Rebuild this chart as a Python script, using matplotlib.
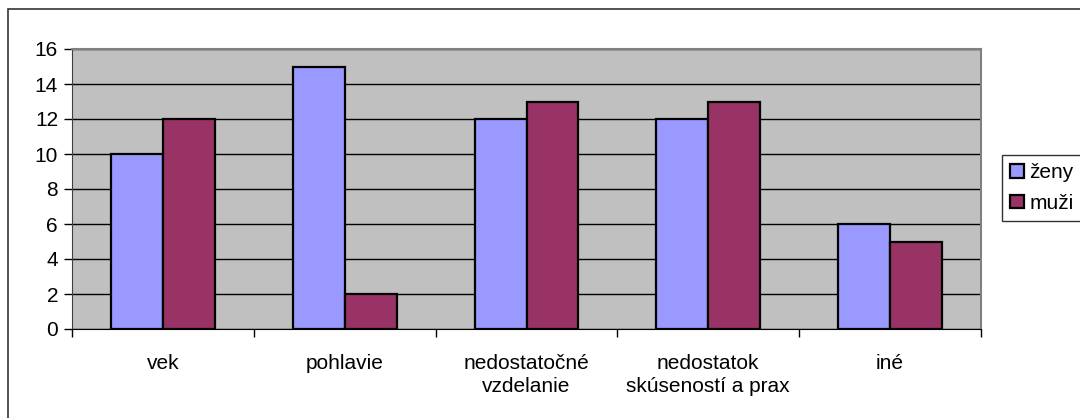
import numpy as np
import matplotlib.pyplot as plt
from matplotlib.patches import Rectangle

plt.rcParams['font.family'] = ['Liberation Sans', 'DejaVu Sans']

categories = ['vek', 'pohlavie', 'nedostatočné\nvzdelanie', 'nedostatok\nskúseností a prax', 'iné']
zeny = [10, 15, 12, 12, 6]
muzi = [12, 2, 13, 13, 5]
yticks = [0, 2, 4, 6, 8, 10, 12, 14, 16]

fig = plt.figure(figsize=(10.8, 4.18), dpi=100)
fig.patch.set_facecolor('white')
# outer chart frame (cut off on the right/bottom like the original)
fig.add_artist(Rectangle((8/1080, -0.1), 1.2, 1 - 9/418 + 0.1, transform=fig.transFigure,
                         fill=False, edgecolor='#333333', lw=1.2))

ax = fig.add_axes([72/1080, 89/418, 909/1080, 280/418])
ax.set_facecolor('#C0C0C0')

x = np.arange(len(categories))
w = 1 / 3.5
ax.bar(x - w/2, zeny, w, color='#9999FF', edgecolor='black', lw=1.6, label='ženy', zorder=3)
ax.bar(x + w/2, muzi, w, color='#993366', edgecolor='black', lw=1.6, label='muži', zorder=3)

ax.set_xlim(-0.5, len(categories) - 0.5)
ax.set_ylim(0, 16)
ax.set_yticks(yticks)
ax.yaxis.grid(True, color='black', lw=1)
ax.set_axisbelow(True)
ax.tick_params(axis='y', labelsize=15, length=6, width=1, pad=4)
ax.set_xticks(np.arange(-0.5, len(categories)), minor=False)
ax.set_xticklabels([])
ax.tick_params(axis='x', length=6, width=1)
ax.set_xticks(x, minor=True)
ax.set_xticklabels(categories, minor=True, fontsize=15, linespacing=1.3, va='top')
ax.tick_params(axis='x', which='minor', length=0, pad=18)

for s in ['top', 'right']:
    ax.spines[s].set_color('#808080')
    ax.spines[s].set_linewidth(1.5)
ax.spines['left'].set_color('#404040')
ax.spines['bottom'].set_color('black')

# legend box runs past the right edge, as in the original crop
leg = fig.legend(loc='upper left', bbox_to_anchor=(1002/1080, 1 - 155/418 - 0.1, 0.13, 0.1),
                 mode='expand', fontsize=15,
                 frameon=True, fancybox=False, shadow=False, borderaxespad=0,
                 handlelength=0.65, handleheight=0.65, handletextpad=0.25,
                 labelspacing=0.55, borderpad=0.4)
leg.get_frame().set_edgecolor('black')
leg.get_frame().set_linewidth(1)

fig.savefig('out.png', dpi=100)
